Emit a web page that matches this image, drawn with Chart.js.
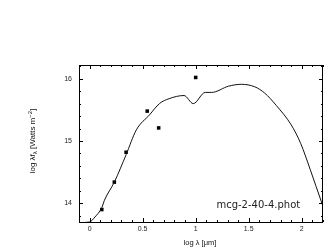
<!DOCTYPE html>
<html><head><meta charset="utf-8">
<script src="https://cdn.jsdelivr.net/npm/chart.js@4/dist/chart.umd.min.js"></script>
<style>html,body{margin:0;padding:0;background:#fff}#w{width:327px;height:250px}</style>
</head><body><div id="w"><canvas id="c" width="327" height="250"></canvas></div>
<script>
const modelX = [-0.1, 0.0, 0.05, 0.115, 0.14, 0.233, 0.344, 0.441, 0.565, 0.658, 0.75, 0.89, 0.977, 1.09, 1.15, 1.31, 1.43, 1.557, 1.65, 1.76, 1.9, 1.99, 2.08, 2.19, 2.22];
const modelY = [13.69, 13.70, 13.78, 13.93, 14.05, 14.34, 14.78, 15.18, 15.42, 15.60, 15.68, 15.73, 15.60, 15.78, 15.78, 15.88, 15.91, 15.87, 15.77, 15.57, 15.26, 14.96, 14.54, 14.0, 13.86];
const photX = [0.115, 0.233, 0.344, 0.543, 0.651, 1.0];
const photY = [13.9, 14.34, 14.82, 15.48, 15.21, 16.02];
const xTicks = [0, 0.5, 1, 1.5, 2];
const xTickLabels = ['0', '0.5', '1', '1.5', '2'];
const yTicks = [14, 15, 16];
const yTickLabels = ['14', '15', '16'];
const xMinorStep = 0.1, yMinorStep = 0.2;
const annotation = 'mcg-2-40-4.phot';

const FONT = '"Liberation Sans", Arial, sans-serif';

const framePlugin = {
  id: 'frame',
  afterDraw(chart) {
    const ctx = chart.ctx, a = chart.chartArea, xs = chart.scales.x, ys = chart.scales.y;
    ctx.save();
    ctx.strokeStyle = '#000'; ctx.lineWidth = 1;
    ctx.strokeRect(Math.round(a.left) + 0.5, Math.round(a.top) + 0.5, Math.round(a.right - a.left) - 1, Math.round(a.bottom - a.top));
    ctx.beginPath();
    const tick = (v, isX, len) => {
      if (isX) {
        const p = Math.round(xs.getPixelForValue(v)) + 0.5;
        ctx.moveTo(p, a.bottom); ctx.lineTo(p, a.bottom - len);
        ctx.moveTo(p, a.top); ctx.lineTo(p, a.top + len);
      } else {
        const p = Math.round(ys.getPixelForValue(v)) + 0.5;
        ctx.moveTo(a.left, p); ctx.lineTo(a.left + len, p);
        ctx.moveTo(a.right, p); ctx.lineTo(a.right - len, p);
      }
    };
    for (let i = Math.ceil(xs.min / xMinorStep); i * xMinorStep <= xs.max + 1e-9; i++) {
      const v = +(i * xMinorStep).toFixed(3);
      tick(v, true, xTicks.some(t => Math.abs(t - v) < 1e-6) ? 4 : 2);
    }
    for (let i = Math.ceil(ys.min / yMinorStep); i * yMinorStep <= ys.max + 1e-9; i++) {
      const v = +(i * yMinorStep).toFixed(3);
      tick(v, false, yTicks.some(t => Math.abs(t - v) < 1e-6) ? 4 : 2);
    }
    ctx.stroke();
    ctx.fillStyle = '#111';
    // x title
    ctx.font = '7.5px ' + FONT;
    ctx.textAlign = 'center'; ctx.textBaseline = 'middle';
    ctx.fillText('log \u03bb [\u03bcm]', 200, 243);
    // y title rotated
    ctx.save();
    ctx.translate(33, 141);
    ctx.rotate(-Math.PI / 2);
    ctx.textAlign = 'left'; ctx.textBaseline = 'middle';
    const parts = [['log \u03bbf', 8, 0], ['\u03bb', 6, 2], [' [Watts m', 8, 0], ['\u22122', 6, -3], [']', 8, 0]];
    let total = 0;
    parts.forEach(p => { ctx.font = p[1] + 'px ' + FONT; total += ctx.measureText(p[0]).width; });
    let x = -total / 2;
    parts.forEach(p => { ctx.font = p[1] + 'px ' + FONT; ctx.fillText(p[0], x, p[2]); x += ctx.measureText(p[0]).width; });
    ctx.restore();
    // annotation
    ctx.font = '10px "DejaVu Sans", sans-serif';
    ctx.fillStyle = '#222';
    ctx.textAlign = 'center'; ctx.textBaseline = 'middle';
    ctx.fillText(annotation, xs.getPixelForValue(1.59), ys.getPixelForValue(13.97));
    ctx.restore();
  }
};

new Chart(document.getElementById('c'), {
  type: 'scatter',
  data: {
    datasets: [
      { data: modelX.map((x, i) => ({ x, y: modelY[i] })), showLine: true, borderColor: '#111', borderWidth: 1, pointRadius: 0, cubicInterpolationMode: 'monotone' },
      { data: photX.map((x, i) => ({ x, y: photY[i] })), pointStyle: 'rect', pointRadius: 2.5, backgroundColor: '#000', borderColor: '#000', borderWidth: 0 }
    ]
  },
  options: {
    responsive: false, animation: false, devicePixelRatio: 1,
    layout: { padding: { left: 0, top: 65, right: 2, bottom: 0 } },
    plugins: { legend: { display: false }, tooltip: { enabled: false } },
    scales: {
      x: {
        type: 'linear', min: -0.1, max: 2.2,
        afterBuildTicks: ax => { ax.ticks = xTicks.map(v => ({ value: v })); },
        afterFit: ax => { ax.height = 28; },
        grid: { display: false, drawTicks: false },
        border: { display: false },
        ticks: { callback: (v) => xTickLabels[xTicks.indexOf(v)], font: { size: 7, family: FONT }, color: '#222', padding: 3, maxRotation: 0, autoSkip: false }
      },
      y: {
        type: 'linear', min: 13.7, max: 16.22,
        afterBuildTicks: ax => { ax.ticks = yTicks.map(v => ({ value: v })); },
        afterFit: ax => { ax.width = 79; },
        grid: { display: false, drawTicks: false },
        border: { display: false },
        ticks: { callback: (v) => yTickLabels[yTicks.indexOf(v)], font: { size: 7, family: FONT }, color: '#222', padding: 7, autoSkip: false }
      }
    }
  },
  plugins: [framePlugin]
});
</script></body></html>
